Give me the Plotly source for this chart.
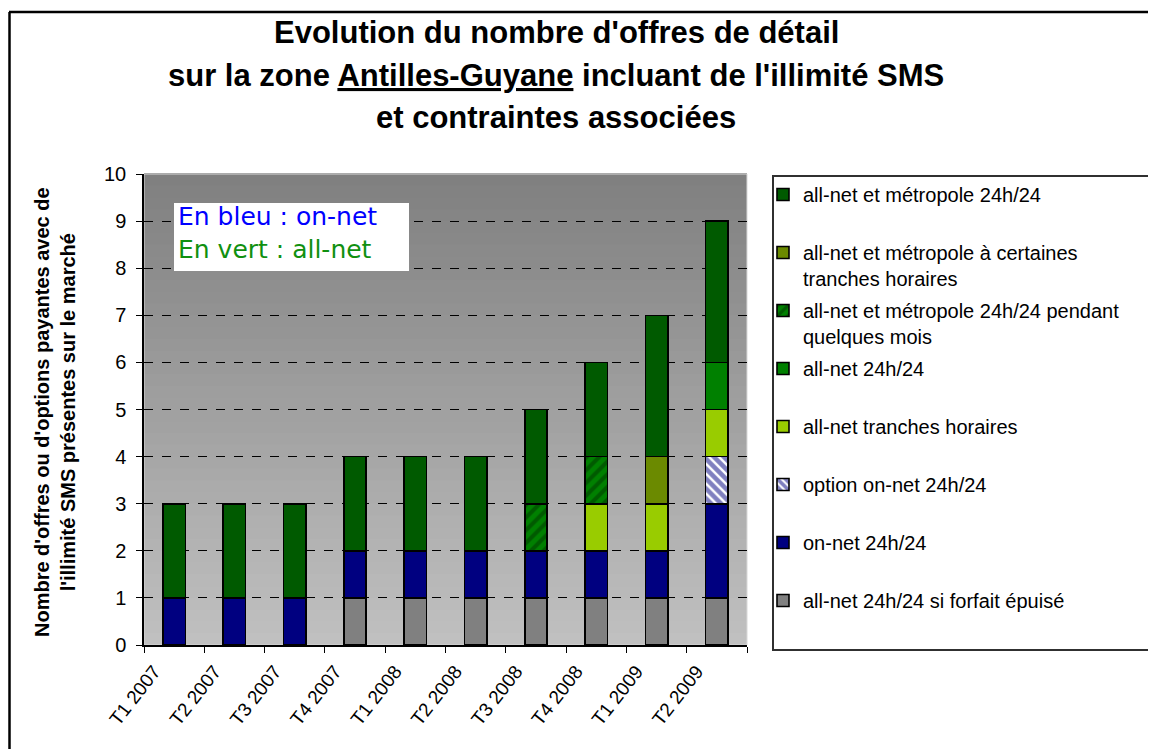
import plotly.graph_objects as go

# ---------------- data ----------------
categories = ["T1 2007", "T2 2007", "T3 2007", "T4 2007", "T1 2008",
              "T2 2008", "T3 2008", "T4 2008", "T1 2009", "T2 2009"]

forfait_epuise      = [0, 0, 0, 1, 1, 1, 1, 1, 1, 1]
on_net              = [1, 1, 1, 1, 1, 1, 1, 1, 1, 2]
option_on_net       = [0, 0, 0, 0, 0, 0, 0, 0, 0, 1]
allnet_tranches     = [0, 0, 0, 0, 0, 0, 0, 1, 1, 1]
allnet_24           = [0, 0, 0, 0, 0, 0, 0, 0, 0, 1]
metro_quelques_mois = [0, 0, 0, 0, 0, 0, 1, 1, 0, 0]
metro_certaines     = [0, 0, 0, 0, 0, 0, 0, 0, 1, 0]
metro_24            = [2, 2, 2, 2, 2, 2, 2, 2, 3, 3]

y_ticks = list(range(0, 11))

title_lines = ["Evolution du nombre d'offres de détail",
               "sur la zone <u>Antilles-Guyane</u> incluant de l'illimité SMS",
               "et contraintes associées"]
y_title = "Nombre d'offres ou d'options payantes avec de<br>l'illimité SMS présentes sur le marché"

# ---------------- geometry helpers (page pixel coords -> paper) ----------------
OFF = 8                      # page body margin
W, H = 1156 - OFF, 749 - OFF
L, R, T, B = 144 - OFF, 747 - OFF, 174 - OFF, 645 - OFF


def px(x):
    return (x - OFF - L) / (R - L)


def py(y):
    return (B - (y - OFF)) / (B - T)


FONT = "Liberation Sans, Arial, sans-serif"

series = [
    ("all-net 24h/24 si forfait épuisé<br> ", forfait_epuise, dict(color="#808080")),
    ("on-net 24h/24<br> ", on_net, dict(color="#000080")),
    ("option on-net 24h/24<br> ", option_on_net,
     dict(color="#FFFFFF", pattern=dict(shape="\\", fgcolor="#000080", bgcolor="#FFFFFF",
                                        size=7, solidity=0.65, fillmode="overlay"))),
    ("all-net tranches horaires<br> ", allnet_tranches, dict(color="#99CC00")),
    ("all-net 24h/24<br> ", allnet_24, dict(color="#008000")),
    ("all-net et métropole 24h/24 pendant<br>quelques mois", metro_quelques_mois,
     dict(color="#008000", pattern=dict(shape="/", fgcolor="#003300", bgcolor="#008000",
                                        size=9, solidity=0.45, fillmode="overlay"))),
    ("all-net et métropole à certaines<br>tranches horaires", metro_certaines, dict(color="#6B8A00")),
    ("all-net et métropole 24h/24<br> ", metro_24, dict(color="#005A00")),
]

fig = go.Figure()
for i, (name, vals, mk) in enumerate(series):
    mk = dict(mk)
    mk["line"] = dict(color="#000000", width=1.6)
    fig.add_trace(go.Bar(x=categories, y=vals, name=name, marker=mk,
                         width=0.37, legendgroup=f"g{i}", legendrank=1000 - 10 * i))

# ---------------- background gradient ----------------
shapes = []
n = 40
for k in range(n):
    t = k / (n - 1)
    g = int(round(0xC0 + (0x80 - 0xC0) * t))
    col = f"rgb({g},{g},{g})"
    shapes.append(dict(type="rect", xref="paper", yref="paper",
                       x0=0, x1=1, y0=k / n, y1=(k + 1) / n + 0.002,
                       fillcolor=col, line=dict(width=0), layer="below"))
# light border of plot area
shapes.append(dict(type="rect", xref="paper", yref="paper", x0=0, x1=1, y0=0, y1=1,
                   line=dict(color="#D8D8D8", width=1), fillcolor="rgba(0,0,0,0)", layer="below"))
# info box
shapes.append(dict(type="rect", xref="paper", yref="paper",
                   x0=px(174), x1=px(409), y0=py(271), y1=py(203),
                   fillcolor="#FFFFFF", line=dict(width=0), layer="above"))
# legend frame
shapes.append(dict(type="rect", xref="paper", yref="paper",
                   x0=px(773), x1=px(1150), y0=py(650), y1=py(176),
                   fillcolor="rgba(0,0,0,0)", line=dict(color="#303030", width=2)))
# outer frame (left and top)
shapes.append(dict(type="line", xref="paper", yref="paper",
                   x0=px(9.5), x1=px(9.5), y0=py(12), y1=py(790),
                   line=dict(color="#000000", width=2.5)))
shapes.append(dict(type="line", xref="paper", yref="paper",
                   x0=px(9), x1=px(1180), y0=py(12), y1=py(12),
                   line=dict(color="#000000", width=2.5)))

annotations = []
for txt, yy in zip(title_lines, [32, 75, 117]):
    annotations.append(dict(text=f"<b>{txt}</b>", xref="paper", yref="paper",
                            x=px(556), y=py(yy), xanchor="center", yanchor="middle",
                            showarrow=False, font=dict(family=FONT, size=31, color="#000000")))
annotations.append(dict(text=f"<b>{y_title}</b>", xref="paper", yref="paper",
                        x=px(55), y=py(412), xanchor="center", yanchor="middle",
                        textangle=-90, showarrow=False,
                        font=dict(family=FONT, size=20, color="#000000")))
annotations.append(dict(text="En bleu : on-net", xref="paper", yref="paper",
                        x=px(176), y=py(216), xanchor="left", yanchor="middle",
                        showarrow=False, font=dict(family="DejaVu Sans, Verdana", size=25, color="#0000FF")))
annotations.append(dict(text="En vert : all-net", xref="paper", yref="paper",
                        x=px(176), y=py(249), xanchor="left", yanchor="middle",
                        showarrow=False, font=dict(family="DejaVu Sans, Verdana", size=25, color="#109010")))

fig.update_layout(
    width=W, height=H,
    margin=dict(l=L, r=W - R, t=T, b=H - B, autoexpand=False),
    paper_bgcolor="#FFFFFF",
    plot_bgcolor="rgba(0,0,0,0)",
    barmode="stack",
    font=dict(family=FONT, size=16, color="#000000"),
    showlegend=True,
    legend=dict(x=px(763), y=py(175), xanchor="left", yanchor="top",
                traceorder="grouped", tracegroupgap=3, valign="top",
                maxheight=700,
                bgcolor="rgba(0,0,0,0)", borderwidth=0,
                font=dict(family=FONT, size=20, color="#000000")),
    shapes=shapes,
    annotations=annotations,
    xaxis=dict(type="category", tickangle=-52, showgrid=False, ticks="outside",
               tickson="boundaries", ticklen=6, tickcolor="#000000",
               showline=True, linecolor="#000000", linewidth=1.5,
               ticklabelshift=-20, ticklabelstandoff=6,
               tickfont=dict(family=FONT, size=19, color="#000000")),
    yaxis=dict(range=[0, 10], tickvals=y_ticks, ticks="outside", ticklen=6,
               tickcolor="#000000", showline=True, linecolor="#000000", linewidth=1.5,
               showgrid=True, gridcolor="#000000", griddash="dash", gridwidth=1.3,
               ticklabelstandoff=6,
               zeroline=False, tickfont=dict(family=FONT, size=20, color="#000000")),
)

fig.write_html("out.html")
